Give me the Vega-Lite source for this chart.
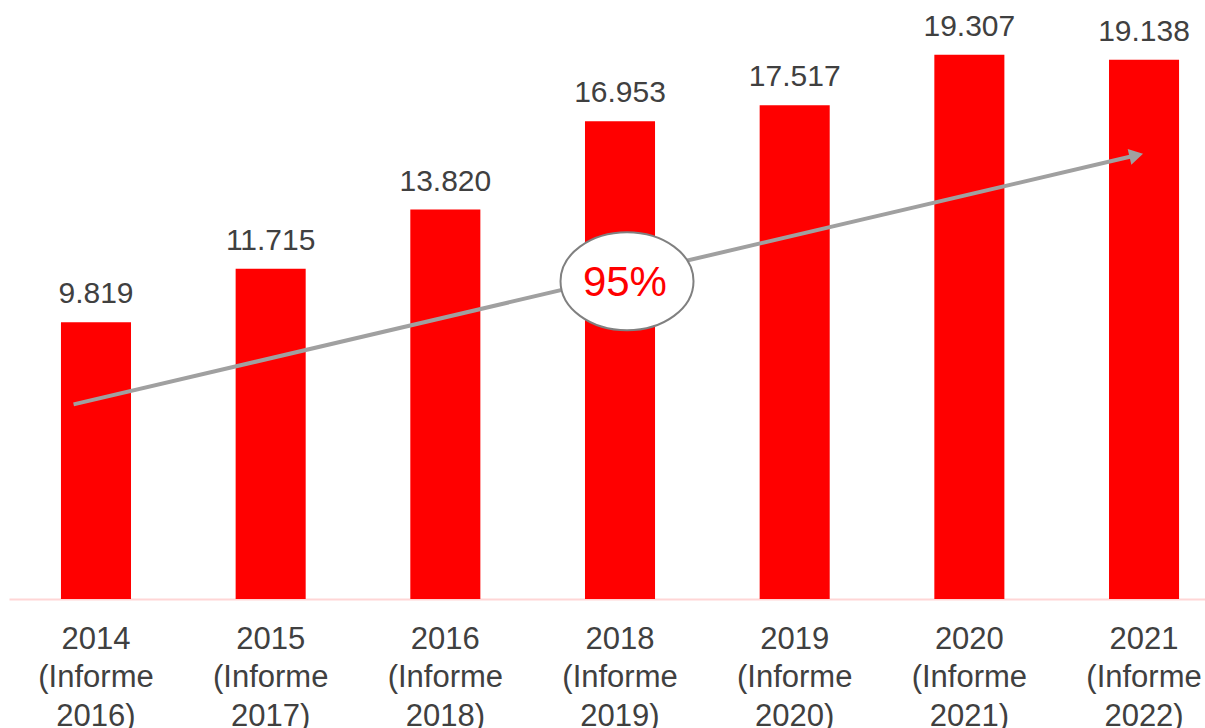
{
  "$schema": "https://vega.github.io/schema/vega-lite/v6.json",
  "width": 1196,
  "height": 599,
  "autosize": {"type": "none"},
  "padding": {"left": 9, "top": 0, "right": 0, "bottom": 129},
  "config": {
    "view": {"stroke": null},
    "font": "Liberation Sans",
    "locale": {"number": {"decimal": ",", "thousands": ".", "grouping": [3], "currency": ["", "€"]}}
  },
  "data": {
    "values": [
      {"periodo": "2014 (Informe 2016)", "valor": 9819},
      {"periodo": "2015 (Informe 2017)", "valor": 11715},
      {"periodo": "2016 (Informe 2018)", "valor": 13820},
      {"periodo": "2018 (Informe 2019)", "valor": 16953},
      {"periodo": "2019 (Informe 2020)", "valor": 17517},
      {"periodo": "2020 (Informe 2021)", "valor": 19307},
      {"periodo": "2021 (Informe 2022)", "valor": 19138}
    ]
  },
  "encoding": {
    "x": {
      "field": "periodo",
      "type": "nominal",
      "sort": null,
      "scale": {
        "domain": ["2014 (Informe 2016)", "2015 (Informe 2017)", "2016 (Informe 2018)", "2018 (Informe 2019)", "2019 (Informe 2020)", "2020 (Informe 2021)", "2021 (Informe 2022)"],
        "paddingInner": 0.599,
        "paddingOuter": 0.223,
        "align": 0.667
      },
      "axis": {
        "title": null,
        "domainColor": "#FFD6D6",
        "domainWidth": 2,
        "ticks": false,
        "tickSize": 0,
        "labelAngle": 0,
        "labelFontSize": 31,
        "labelColor": "#404040",
        "labelLineHeight": 38.5,
        "labelPadding": 25,
        "labelOverlap": false,
        "labelLimit": 300,
        "labelExpr": "split(datum.label, ' ')"
      }
    }
  },
  "layer": [
    {
      "mark": {"type": "bar", "color": "#FF0000"},
      "encoding": {
        "y": {"field": "valor", "type": "quantitative", "scale": {"domain": [0, 21254], "nice": false, "zero": true}, "axis": null}
      }
    },
    {
      "mark": {"type": "text", "dy": -19, "baseline": "alphabetic", "fontSize": 30, "color": "#404040"},
      "encoding": {
        "y": {"field": "valor", "type": "quantitative"},
        "text": {"field": "valor", "type": "quantitative", "format": ",.0f"}
      }
    },
    {
      "data": {"values": [{"desde": "2014 (Informe 2016)", "hasta": "2021 (Informe 2022)", "v1": 6905, "v2": 15745}]},
      "mark": {"type": "rule", "strokeWidth": 4, "color": "#A0A0A0"},
      "encoding": {
        "x": {"field": "desde", "type": "nominal", "bandPosition": 0.18},
        "x2": {"field": "hasta", "bandPosition": 0.389},
        "y": {"field": "v1", "type": "quantitative"},
        "y2": {"field": "v2"}
      }
    },
    {
      "data": {"values": [{"p": "2021 (Informe 2022)", "v": 15745}]},
      "mark": {"type": "point", "shape": "triangle-right", "size": 256, "angle": -13.2, "filled": true, "color": "#A0A0A0", "opacity": 1},
      "encoding": {
        "x": {"field": "p", "type": "nominal", "bandPosition": 0.389},
        "y": {"field": "v", "type": "quantitative"}
      }
    },
    {
      "data": {"values": [{"p": "2018 (Informe 2019)", "v": 11275}]},
      "mark": {"type": "point", "shape": "M -1 0 A 1 0.737 0 1 0 1 0 A 1 0.737 0 1 0 -1 0 Z", "size": 17689, "filled": true, "fill": "#FFFFFF", "stroke": "#808080", "strokeWidth": 2, "opacity": 1},
      "encoding": {
        "x": {"field": "p", "type": "nominal", "bandPosition": 0.6},
        "y": {"field": "v", "type": "quantitative"}
      }
    },
    {
      "data": {"values": [{"p": "2018 (Informe 2019)", "v": 10742, "t": "95%"}]},
      "mark": {"type": "text", "baseline": "alphabetic", "fontSize": 42, "color": "#FF0000"},
      "encoding": {
        "x": {"field": "p", "type": "nominal", "bandPosition": 0.57},
        "y": {"field": "v", "type": "quantitative"},
        "text": {"field": "t"}
      }
    }
  ]
}
